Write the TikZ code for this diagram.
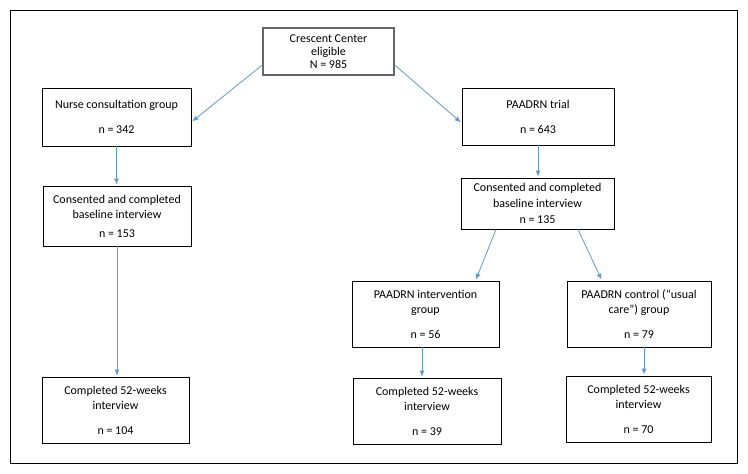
\documentclass[tikz,border=0pt]{standalone}
\usepackage{fontspec}
\setmainfont{Carlito}
\usetikzlibrary{arrows.meta}
\definecolor{arrowblue}{RGB}{91,155,213}

\begin{document}
\begin{tikzpicture}[x=1pt,y=-1pt,
        box/.style={draw, line width=0.8pt, align=center, inner sep=0pt,
            font=\fontsize{12}{15}\selectfont},
        flow/.style={draw=arrowblue, line width=0.8pt, shorten >=1pt,
            -{Latex[length=6pt,width=5pt]}}]
        \useasboundingbox (0,0) rectangle (748,474);
        \draw[line width=0.9pt] (10,10) rectangle (737,463);

        \node[box, minimum width=131pt, minimum height=47pt, draw=black!60, line width=1.4pt] (eligible) at (328.5,51.5) {Crescent Center\\[-2pt]eligible\\[-2pt]N = 985};
        \node[box, minimum width=149pt, minimum height=58pt] (nurse) at (116.5,117) {Nurse consultation group\\[10pt]n = 342};
        \node[box, minimum width=152pt, minimum height=57pt] (trial) at (538,116.5) {PAADRN trial\\[10pt]n = 643};
        \node[box, minimum width=148pt, minimum height=60pt] (cons1) at (117,216) {Consented and completed\\baseline interview\\[4pt]n = 153};
        \node[box, minimum width=153pt, minimum height=51pt] (cons2) at (537.5,203.5) {Consented and completed\\[1pt]baseline interview\\[1pt]n = 135};
        \node[box, minimum width=147pt, minimum height=66pt] (interv) at (425.5,314) {PAADRN intervention\\group\\[10pt]n = 56};
        \node[box, minimum width=144pt, minimum height=66pt] (control) at (639,314) {PAADRN control (“usual\\care”) group\\[10pt]n = 79};
        \node[box, minimum width=147pt, minimum height=66pt] (done1) at (115.5,410) {Completed 52-weeks\\interview\\[10pt]n = 104};
        \node[box, minimum width=148pt, minimum height=66pt] (done2) at (427,411) {Completed 52-weeks\\interview\\[10pt]n = 39};
        \node[box, minimum width=145pt, minimum height=66pt] (done3) at (638.5,409) {Completed 52-weeks\\interview\\[10pt]n = 70};

        \draw[flow] ([yshift=-13.5pt]eligible.west) -- ([yshift=-5pt]nurse.east);
        \draw[flow] ([yshift=-13.5pt]eligible.east) -- ([yshift=-6.5pt]trial.west);
        \draw[flow] (nurse.south) -- (nurse.south |- cons1.north);
        \draw[flow] (trial.south) -- (trial.south |- cons2.north);
        \draw[flow] (cons1.south) -- (cons1.south |- done1.north);
        \draw[flow] ([xshift=-41.5pt]cons2.south) -- ([xshift=50pt]interv.north);
        \draw[flow] ([xshift=40.5pt]cons2.south) -- ([xshift=-37pt]control.north);
        \draw[flow] ([xshift=-3.5pt]interv.south) -- ([xshift=-3.5pt]interv.south |- done2.north);
        \draw[flow] ([xshift=5pt]control.south) -- ([xshift=5pt]control.south |- done3.north);
    \end{tikzpicture}
\end{document}
